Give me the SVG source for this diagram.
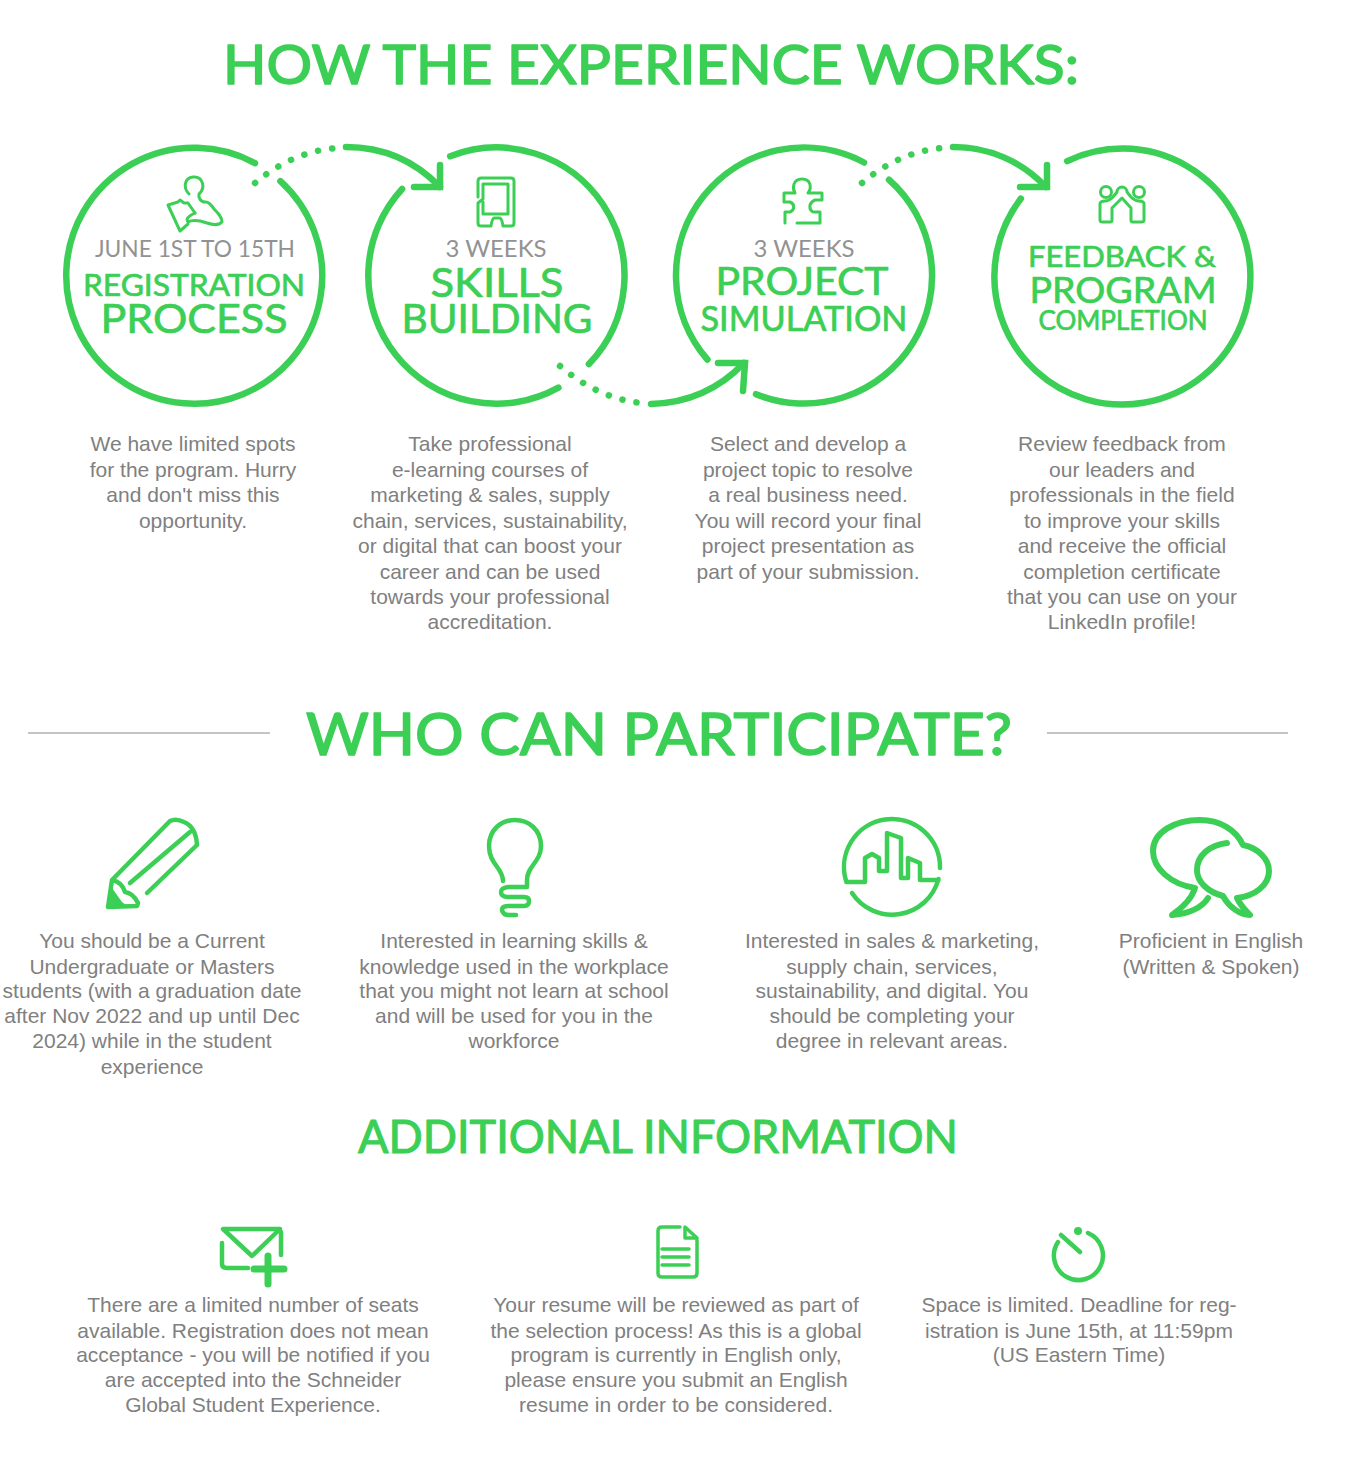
<svg xmlns="http://www.w3.org/2000/svg" width="1345" height="1462" viewBox="0 0 1345 1462">
<style>
.h{font-family:"Lato","Noto Sans",sans-serif;fill:#3ccf55;stroke:#3ccf55;stroke-width:1.6;stroke-linejoin:round;text-anchor:middle;font-weight:400}
.m{font-family:"Lato","Noto Sans",sans-serif;fill:#3ccf55;stroke:#3ccf55;stroke-width:0.7;stroke-linejoin:round;text-anchor:middle;font-weight:400}
.g{font-family:"Lato","Noto Sans",sans-serif;fill:#929292;text-anchor:middle;font-size:23px;font-weight:400}
.b{font-family:"Liberation Sans",Arial,sans-serif;fill:#808080;text-anchor:middle;font-size:21px}
.r{fill:none;stroke:#3ccf55;stroke-width:6.500;stroke-linecap:round}
.d{fill:none;stroke:#3ccf55;stroke-width:6.500;stroke-linecap:round;stroke-dasharray:0.1 14.2}
.i{fill:none;stroke:#3ccf55;stroke-width:3;stroke-linecap:round;stroke-linejoin:round}
.e{fill:none;stroke:#3ccf55;stroke-width:3.5;stroke-linecap:round;stroke-linejoin:round}
.j{fill:none;stroke:#3ccf55;stroke-width:4.5;stroke-linecap:round;stroke-linejoin:round}
.k{fill:none;stroke:#3ccf55;stroke-width:6;stroke-linecap:round;stroke-linejoin:round}
.rule{stroke:#c4c4c4;stroke-width:2}
</style>
<g id="headings">
<text class="h" x="651" y="84" font-size="55" textLength="856" lengthAdjust="spacingAndGlyphs">HOW THE EXPERIENCE WORKS:</text>
<text class="h" x="659" y="755" font-size="58" textLength="706" lengthAdjust="spacingAndGlyphs">WHO CAN PARTICIPATE?</text>
<text class="m" x="658" y="1153" font-size="46" style="stroke-width:1.100" textLength="600" lengthAdjust="spacingAndGlyphs">ADDITIONAL INFORMATION</text>
<line class="rule" x1="28" y1="733" x2="270" y2="733"/>
<line class="rule" x1="1047" y1="733" x2="1288" y2="733"/>
</g>
<g id="connectors">
<path class="d" d="M255,183C276,165 305,150 337,148"/>
<path class="r" d="M346,147C384,147 416,162 440,187"/>
<path class="r" d="M440,165V187H414"/>
<path class="d" d="M560,366C582,385 610,400 642,403"/>
<path class="r" d="M651,404C688,403 720,388 744,363"/>
<path class="r" d="M718,363H745L743,391"/>
<path class="d" d="M862,183C883,165 912,150 943,148"/>
<path class="r" d="M953,147C990,147 1022,162 1046,187"/>
<path class="r" d="M1047,165V187H1020"/>
</g>
<g id="step-registration">
<path class="r" d="M280.400,181.100A128,128 0 1 1 255,163.100"/>
<path class="i" d="M189,194C183,188 184,178 193,177C203,176 206,188 199,194C198,198 201,202 205,202C209,201 212,206 214,209C218,213 222,217 222,222C218,226 213,225 207,223C201,221 194,219 188,222C186,219 187,217 195,213"/>
<path class="i" d="M168,205L178,202L180,200L184,203L188,203L195,213M188,224L180,231L168,205"/>
<text class="g" x="195" y="257" textLength="200" lengthAdjust="spacingAndGlyphs">JUNE 1ST TO 15TH</text>
<text class="m" x="194" y="296" font-size="30" textLength="222" lengthAdjust="spacingAndGlyphs">REGISTRATION</text>
<text class="m" x="194" y="333" font-size="40" textLength="187" lengthAdjust="spacingAndGlyphs">PROCESS</text>
</g>
<g id="step-skills">
<path class="r" d="M450.200,156.200A128,128 0 0 1 588.900,364.100"/>
<path class="r" d="M558.400,387.600A128,128 0 0 1 402.100,189"/>
<path class="i" d="M478,197V181Q478,178 481,178H511Q514,178 514,181V223Q514,226 511,226H503Q502,219 500,218H494Q492,219 491,226H481Q478,226 478,223V203L483,199V184H508V214H483V202"/>
<text class="g" x="496" y="257" textLength="101" lengthAdjust="spacingAndGlyphs">3 WEEKS</text>
<text class="m" x="497" y="297" font-size="40" textLength="133" lengthAdjust="spacingAndGlyphs">SKILLS</text>
<text class="m" x="497" y="333" font-size="40" textLength="191" lengthAdjust="spacingAndGlyphs">BUILDING</text>
</g>
<g id="step-project">
<path class="r" d="M889,179.800A128,128 0 0 1 756,394.200"/>
<path class="r" d="M707.400,359.500A128,128 0 0 1 864.100,162.500"/>
<path class="i" d="M797,223H820V212H813C809,210 808,203 815,200H822V193H808C812,188 811,179 802,179C793,179 792,188 795,193H784V202H790C795,204 795,210 790,212H785V223"/>
<text class="g" x="804" y="257" textLength="101" lengthAdjust="spacingAndGlyphs">3 WEEKS</text>
<text class="m" x="802" y="295" font-size="38" textLength="173" lengthAdjust="spacingAndGlyphs">PROJECT</text>
<text class="m" x="804" y="331" font-size="34" textLength="207" lengthAdjust="spacingAndGlyphs">SIMULATION</text>
</g>
<g id="step-feedback">
<path class="r" d="M1067.200,161.100A128,128 0 1 1 1020.900,198.600"/>
<circle class="i" cx="1106" cy="192" r="5.500"/>
<circle class="i" cx="1139" cy="192" r="5.500"/>
<path class="i" d="M1100,204V220Q1100,222 1103,222H1110Q1112,222 1112,220V208L1122,198L1131,208V220Q1131,222 1133,222H1141Q1144,222 1144,220V204Q1144,201 1139,201Q1135,201 1131,197L1127,192A5,5 0 1 0 1117,192L1113,197Q1109,201 1105,201Q1100,201 1100,204Z"/>
<text class="m" x="1122" y="267" font-size="29" textLength="188" lengthAdjust="spacingAndGlyphs">FEEDBACK &amp;</text>
<text class="m" x="1123" y="303" font-size="37" textLength="187" lengthAdjust="spacingAndGlyphs">PROGRAM</text>
<text class="m" x="1123" y="330" font-size="26" textLength="169" lengthAdjust="spacingAndGlyphs">COMPLETION</text>
</g>
<g id="text-steps">
<text class="b" x="193" y="451">We have limited spots</text>
<text class="b" x="193" y="476.500">for the program. Hurry</text>
<text class="b" x="193" y="502">and don't miss this</text>
<text class="b" x="193" y="527.500">opportunity.</text>
<text class="b" x="490" y="451">Take professional</text>
<text class="b" x="490" y="476.500">e-learning courses of</text>
<text class="b" x="490" y="502">marketing &amp; sales, supply</text>
<text class="b" x="490" y="527.500">chain, services, sustainability,</text>
<text class="b" x="490" y="553">or digital that can boost your</text>
<text class="b" x="490" y="578.500">career and can be used</text>
<text class="b" x="490" y="604">towards your professional</text>
<text class="b" x="490" y="629">accreditation.</text>
<text class="b" x="808" y="451">Select and develop a</text>
<text class="b" x="808" y="476.500">project topic to resolve</text>
<text class="b" x="808" y="502">a real business need.</text>
<text class="b" x="808" y="527.500">You will record your final</text>
<text class="b" x="808" y="553">project presentation as</text>
<text class="b" x="808" y="578.500">part of your submission.</text>
<text class="b" x="1122" y="451">Review feedback from</text>
<text class="b" x="1122" y="476.500">our leaders and</text>
<text class="b" x="1122" y="502">professionals in the field</text>
<text class="b" x="1122" y="527.500">to improve your skills</text>
<text class="b" x="1122" y="553">and receive the official</text>
<text class="b" x="1122" y="578.500">completion certificate</text>
<text class="b" x="1122" y="604">that you can use on your</text>
<text class="b" x="1122" y="629">LinkedIn profile!</text>
</g>
<g id="who-undergrad">
<path class="j" d="M108,907L112,880L170,821Q176,818 184,822Q196,827 197,845L147,893M138,903L137,906L108,907M190,832L130,883M112,880Q122,882 125,892Q133,893 138,903"/>
<path d="M108,907L112,888L122,902L126,905Z" fill="#3ccf55"/>
<text class="b" x="152" y="948">You should be a Current</text>
<text class="b" x="152" y="973.500">Undergraduate or Masters</text>
<text class="b" x="152" y="998">students (with a graduation date</text>
<text class="b" x="152" y="1023">after Nov 2022 and up until Dec</text>
<text class="b" x="152" y="1048">2024) while in the student</text>
<text class="b" x="152" y="1073.500">experience</text>
</g>
<g id="who-interest">
<path class="j" d="M503,881C503,868 489,864 489,846C489,830 501,820 515,820C529,820 541,830 541,846C541,862 527,866 527,880V887H508Q501,888 501,892Q501,897 508,897H524Q529,897 529,901Q529,906 524,906H508Q502,906 502,910Q503,915 509,915H516"/>
<text class="b" x="514" y="948">Interested in learning skills &amp;</text>
<text class="b" x="514" y="973.500">knowledge used in the workplace</text>
<text class="b" x="514" y="998">that you might not learn at school</text>
<text class="b" x="514" y="1023">and will be used for you in the</text>
<text class="b" x="514" y="1048">workforce</text>
</g>
<g id="who-sector">
<path class="j" d="M846.400,882A48,48 0 1 1 940,868M938.500,879A48,48 0 0 1 852,893M846.400,882H865V858L872,854L879,858V871H887V833L901,838V878H908V858L920,863V880H938.500"/>
<text class="b" x="892" y="948">Interested in sales &amp; marketing,</text>
<text class="b" x="892" y="973.500">supply chain, services,</text>
<text class="b" x="892" y="998">sustainability, and digital. You</text>
<text class="b" x="892" y="1023">should be completing your</text>
<text class="b" x="892" y="1048">degree in relevant areas.</text>
</g>
<g id="who-english">
<path class="k" d="M1208,898C1202,908 1188,914 1172,915C1182,908 1192,898 1195,888C1170,884 1153,868 1153,851C1153,832 1175,820 1200,820C1220,820 1236,830 1243,845C1258,848 1269,859 1269,871C1269,885 1255,896 1237,898C1240,905 1245,910 1250,915C1240,915 1229,907 1223,896C1208,892 1197,882 1197,870C1197,855 1210,845 1227,843"/>
<text class="b" x="1211" y="948">Proficient in English</text>
<text class="b" x="1211" y="973.500">(Written &amp; Spoken)</text>
</g>
<g id="info-seats">
<path class="j" d="M223,1229H280L252,1256ZM222,1243V1264Q222,1268 227,1268H248M281,1232V1255"/>
<path class="k" style="stroke-width:7" d="M268,1256V1284M254,1269H284"/>
<text class="b" x="253" y="1312">There are a limited number of seats</text>
<text class="b" x="253" y="1337.500">available. Registration does not mean</text>
<text class="b" x="253" y="1362">acceptance - you will be notified if you</text>
<text class="b" x="253" y="1387">are accepted into the Schneider</text>
<text class="b" x="253" y="1412">Global Student Experience.</text>
</g>
<g id="info-resume">
<path class="e" d="M680,1227H662Q658,1227 658,1231V1273Q658,1277 662,1277H693Q697,1277 697,1273V1240M685,1227L697,1238H685ZM662,1249H689M662,1257H689M662,1265H689"/>
<text class="b" x="676" y="1312">Your resume will be reviewed as part of</text>
<text class="b" x="676" y="1337.500">the selection process! As this is a global</text>
<text class="b" x="676" y="1362">program is currently in English only,</text>
<text class="b" x="676" y="1387">please ensure you submit an English</text>
<text class="b" x="676" y="1412">resume in order to be considered.</text>
</g>
<g id="info-deadline">
<path class="j" d="M1058,1242A24.500,24.500 0 1 0 1088,1233M1061,1235L1080,1252"/>
<circle cx="1078" cy="1231" r="4" fill="#3ccf55"/>
<text class="b" x="1079" y="1312">Space is limited. Deadline for reg-</text>
<text class="b" x="1079" y="1337.500">istration is June 15th, at 11:59pm</text>
<text class="b" x="1079" y="1362">(US Eastern Time)</text>
</g>
</svg>
